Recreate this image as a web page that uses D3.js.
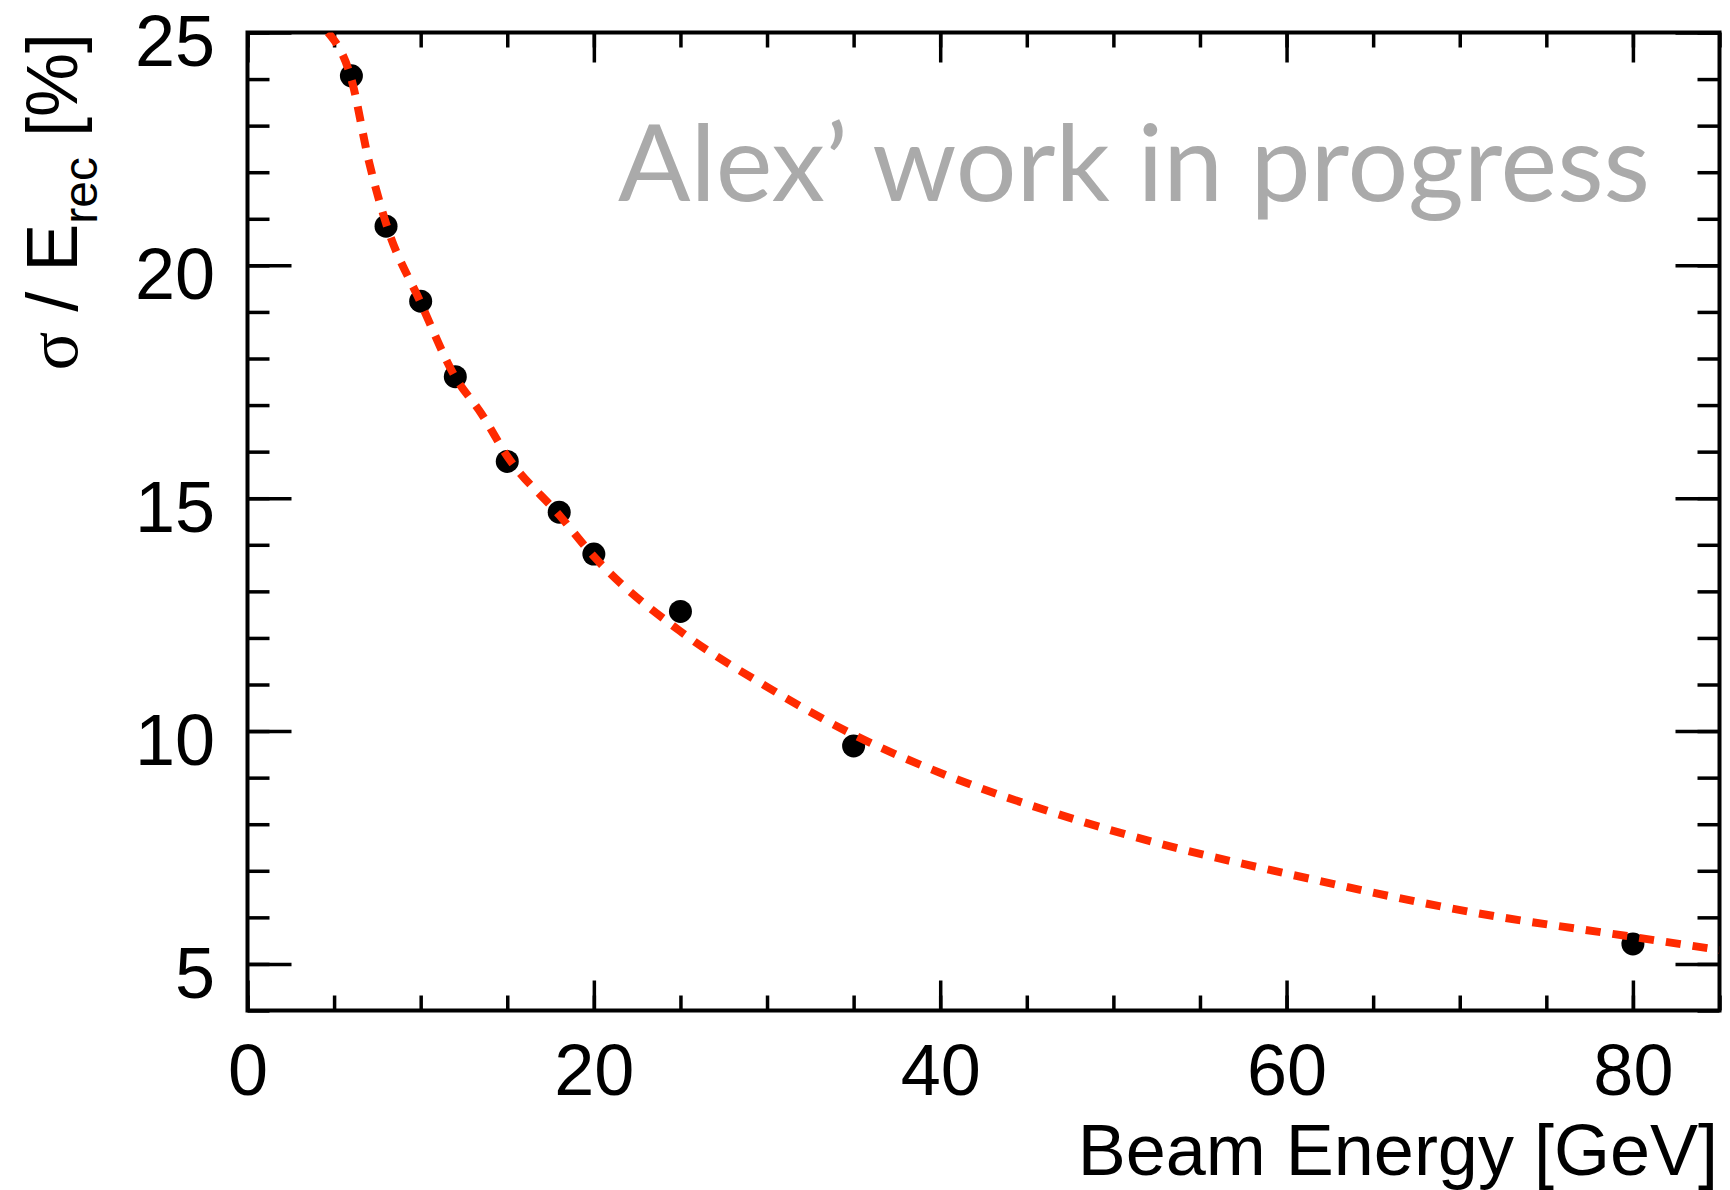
<!DOCTYPE html>
<html>
<head>
<meta charset="utf-8">
<script src="https://cdn.jsdelivr.net/npm/d3@7"></script>
<style>
  html, body { margin: 0; padding: 0; background: #ffffff; }
  svg { display: block; }
</style>
</head>
<body>
<script>
// ---- data ----
const beamEnergy = [6, 8, 10, 12, 15, 18, 20, 25, 35, 80];
const resolution = [24.07, 20.84, 19.23, 17.61, 15.79, 14.70, 13.80, 12.57, 9.68, 5.43];
// fit curve
const fitEnergy = [4.65, 6, 7, 8, 10, 12, 13.5, 15, 18, 20, 25, 30, 35, 40.5, 46.6, 53, 60, 71, 80, 85];
const fitValue  = [25.0, 24.0, 22.25, 20.9, 19.2, 17.6, 16.82, 15.9, 14.64, 13.75, 12.14, 10.95, 9.92, 9.03, 8.24, 7.55, 6.94, 6.09, 5.58, 5.3];
const xMajorTicks = [0, 20, 40, 60, 80];
const xMinorTicks = d3.range(0, 86, 5);
const yMajorTicks = [5, 10, 15, 20, 25];
const yMinorTicks = d3.range(4, 26, 1);
const xTitle = "Beam Energy [GeV]";
const watermark = "Alex\u2019 work in progress";

// ---- layout ----
const W = 1730, H = 1190;
const L = 247.5, R = 1719.5, T = 32.5, B = 1010.5;
const font = "'Liberation Sans', Arial, Helvetica, sans-serif";

const svg = d3.select("body").append("svg").attr("width", W).attr("height", H)
  .style("font-family", font);
svg.append("rect").attr("width", W).attr("height", H).attr("fill", "#fff");

const x = d3.scaleLinear().domain([0, 85]).range([L, R]);
const y = d3.scaleLinear().domain([4, 25]).range([B, T]);

function styleAxis(g) {
  g.select(".domain").remove();
  g.selectAll(".tick line").attr("stroke", "#000").attr("stroke-width", 3.5);
}

// minor ticks
svg.append("g").attr("transform", `translate(0,${B})`)
  .call(d3.axisBottom(x).tickValues(xMinorTicks).tickSize(-15).tickFormat(""))
  .call(styleAxis);
svg.append("g").attr("transform", `translate(0,${T})`)
  .call(d3.axisTop(x).tickValues(xMinorTicks).tickSize(-15).tickFormat(""))
  .call(styleAxis);
svg.append("g").attr("transform", `translate(${L},0)`)
  .call(d3.axisLeft(y).tickValues(yMinorTicks).tickSize(-22).tickFormat(""))
  .call(styleAxis);
svg.append("g").attr("transform", `translate(${R},0)`)
  .call(d3.axisRight(y).tickValues(yMinorTicks).tickSize(-22).tickFormat(""))
  .call(styleAxis);

// major ticks with labels
const xAx = svg.append("g").attr("transform", `translate(0,${B})`)
  .call(d3.axisBottom(x).tickValues(xMajorTicks).tickSize(-30).tickPadding(33.4).tickFormat(d3.format("d")))
  .call(styleAxis);
xAx.selectAll("text").attr("font-size", 72).attr("font-family", font).attr("fill", "#000");
svg.append("g").attr("transform", `translate(0,${T})`)
  .call(d3.axisTop(x).tickValues(xMajorTicks).tickSize(-30).tickFormat(""))
  .call(styleAxis);
const yAx = svg.append("g").attr("transform", `translate(${L},0)`)
  .call(d3.axisLeft(y).tickValues(yMajorTicks).tickSize(-44).tickPadding(32.5).tickFormat(d3.format("d")))
  .call(styleAxis);
yAx.selectAll("text").attr("font-size", 72).attr("font-family", font).attr("fill", "#000").attr("dy", "0.46em");
svg.append("g").attr("transform", `translate(${R},0)`)
  .call(d3.axisRight(y).tickValues(yMajorTicks).tickSize(-44).tickFormat(""))
  .call(styleAxis);

// frame
svg.append("rect").attr("x", L).attr("y", T).attr("width", R - L).attr("height", B - T)
  .attr("fill", "none").attr("stroke", "#000").attr("stroke-width", 4);

// watermark
svg.append("text").attr("x", 618).attr("y", 201)
  .attr("font-family", "Lato, 'Open Sans', sans-serif").attr("font-size", 106)
  .attr("fill", "#aaaaaa").attr("textLength", 1032).attr("lengthAdjust", "spacingAndGlyphs")
  .text(watermark);

// clip
svg.append("clipPath").attr("id", "clip").append("rect")
  .attr("x", L).attr("y", T).attr("width", R - L).attr("height", B - T);

// points
svg.append("g").selectAll("circle").data(beamEnergy).join("circle")
  .attr("cx", (d) => x(d)).attr("cy", (d, i) => y(resolution[i])).attr("r", 11.5).attr("fill", "#000");

// fit curve
const fitData = fitEnergy.map((e, i) => [e, fitValue[i]]);
svg.append("path").datum(fitData).attr("clip-path", "url(#clip)")
  .attr("d", d3.line().x(d => x(d[0])).y(d => y(d[1])).curve(d3.curveMonotoneX))
  .attr("fill", "none").attr("stroke", "#ff2a00").attr("stroke-width", 8)
  .attr("stroke-dasharray", "15,12");

// x title
svg.append("text").attr("x", 1718).attr("y", 1175).attr("text-anchor", "end")
  .attr("font-size", 72).attr("fill", "#000").text(xTitle);

// y title
const yt = svg.append("text").attr("transform", "translate(77,33) rotate(-90)")
  .attr("text-anchor", "end").attr("font-size", 72).attr("fill", "#000");
yt.append("tspan").attr("font-family", "'Liberation Serif', 'DejaVu Serif', serif").text("\u03C3");
yt.append("tspan").text(" / E");
yt.append("tspan").attr("font-size", 48).attr("dy", 20).text("rec");
yt.append("tspan").attr("dy", -20).text(" [%]");
</script>
</body>
</html>
